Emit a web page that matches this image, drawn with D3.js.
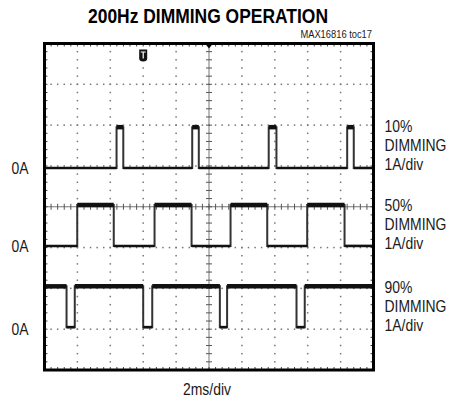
<!DOCTYPE html>
<html><head><meta charset="utf-8">
<script src="https://cdn.jsdelivr.net/npm/d3@7/dist/d3.min.js"></script>
<style>
html,body{margin:0;padding:0;background:#fff;}
svg{display:block;}
.lbl{font-family:"Liberation Sans",Arial,sans-serif;fill:#1a1a1a;}
</style></head>
<body>
<svg id="c" width="449" height="408"></svg>
<script>
// ---- data ----
const title = "200Hz DIMMING OPERATION";
const figId = "MAX16816 toc17";
const xAxisLabel = "2ms/div";
const zeroLabel = "0A";
const traceNames = ["10%", "50%", "90%"];
const traceScale = ["1A/div", "1A/div", "1A/div"];
// channel zero-level offsets in divisions from bottom of screen
const zeroOffsetDiv = [4.95, 3.04, 1.05];
// amplitude (A) when LED is on
const onCurrent = [1.0, 1.0, 1.0];
// initial state at t=0 (1 = on) and switching times (ms)
const startState = [0, 0, 1];
const edges10 = [4.38, 4.79, 8.98, 9.38, 13.63, 14.10, 18.40, 18.80];
const edges50 = [1.99, 4.21, 6.69, 8.94, 11.31, 13.54, 15.97, 18.24];
const edges90 = [1.34, 1.84, 6.00, 6.55, 10.66, 11.10, 15.32, 15.82];
const triggerTimeMs = 6.0;
const timeDivMs = 2, xDivs = 10, yDivs = 8, minorPerDiv = 5;

// ---- layout ----
const L = 44.5, R = 373.5, T = 43.5, B = 370;
const svg = d3.select("#c");
const x = d3.scaleLinear().domain([0, timeDivMs * xDivs]).range([L, R]);
const y = d3.scaleLinear().domain([0, yDivs]).range([B, T]);
const xd = d3.scaleLinear().domain([0, xDivs]).range([L, R]);

// grid
const g = svg.append("g");
const dotC = "#777";
for (let i = 1; i < xDivs; i++) {
  if (i === xDivs / 2) continue;
  for (let k = 1; k < yDivs * minorPerDiv; k++) {
    g.append("rect").attr("x", xd(i) - 0.75).attr("y", y(k / minorPerDiv) - 0.75)
      .attr("width", 1.5).attr("height", 1.5).attr("fill", dotC);
  }
}
for (let j = 1; j < yDivs; j++) {
  if (j === yDivs / 2) continue;
  for (let k = 1; k < xDivs * minorPerDiv; k++) {
    g.append("rect").attr("x", xd(k / minorPerDiv) - 0.75).attr("y", y(j) - 0.75)
      .attr("width", 1.5).attr("height", 1.5).attr("fill", dotC);
  }
}
// center axes with ticks
const cx = xd(xDivs / 2), cy = y(yDivs / 2);
g.append("line").attr("x1", cx).attr("x2", cx).attr("y1", T).attr("y2", B).attr("stroke", "#777").attr("stroke-width", 1);
g.append("line").attr("x1", L).attr("x2", R).attr("y1", cy).attr("y2", cy).attr("stroke", "#777").attr("stroke-width", 1);
for (let k = 1; k < yDivs * minorPerDiv; k++) {
  const yy = y(k / minorPerDiv);
  g.append("line").attr("x1", cx - 3).attr("x2", cx + 3).attr("y1", yy).attr("y2", yy).attr("stroke", "#555").attr("stroke-width", 1);
  g.append("line").attr("x1", L).attr("x2", L + 3).attr("y1", yy).attr("y2", yy).attr("stroke", "#444").attr("stroke-width", 1);
  g.append("line").attr("x1", R - 3).attr("x2", R).attr("y1", yy).attr("y2", yy).attr("stroke", "#444").attr("stroke-width", 1);
}
for (let k = 1; k < xDivs * minorPerDiv; k++) {
  const xx = xd(k / minorPerDiv);
  g.append("line").attr("x1", xx).attr("x2", xx).attr("y1", cy - 3).attr("y2", cy + 3).attr("stroke", "#555").attr("stroke-width", 1);
  g.append("line").attr("x1", xx).attr("x2", xx).attr("y1", T).attr("y2", T + 3).attr("stroke", "#444").attr("stroke-width", 1);
  g.append("line").attr("x1", xx).attr("x2", xx).attr("y1", B - 3).attr("y2", B).attr("stroke", "#444").attr("stroke-width", 1);
}

// traces
const allEdges = [edges10, edges50, edges90];
const tEnd = timeDivMs * xDivs;
allEdges.forEach((ed, i) => {
  const lvl = s => y(zeroOffsetDiv[i] + s * onCurrent[i]);
  let s = startState[i], t0 = 0;
  const pts = [[x(0), lvl(s)]];
  const segs = [];
  ed.forEach(t => {
    segs.push({a: t0, b: t, s: s});
    pts.push([x(t), lvl(s)]);
    s = 1 - s;
    pts.push([x(t), lvl(s)]);
    t0 = t;
  });
  segs.push({a: t0, b: tEnd, s: s});
  pts.push([x(tEnd), lvl(s)]);
  svg.append("path").attr("d", d3.line()(pts)).attr("fill", "none")
    .attr("stroke", "#333").attr("stroke-width", 2);
  segs.forEach(sg => {
    svg.append("line").attr("x1", x(sg.a)).attr("x2", x(sg.b))
      .attr("y1", lvl(sg.s)).attr("y2", lvl(sg.s))
      .attr("stroke", "#111").attr("stroke-width", sg.s ? 4.5 : 2.6);
  });
});

// frame
svg.append("rect").attr("x", L).attr("y", T).attr("width", R - L).attr("height", B - T)
  .attr("fill", "none").attr("stroke", "#000").attr("stroke-width", 3);
// top center trigger-position marker
svg.append("path").attr("d", `M${cx - 4},${T} L${cx + 4},${T} L${cx},${T + 5} Z`).attr("fill", "#000");
// trigger marker
const tx = x(triggerTimeMs);
svg.append("path").attr("d", `M${tx - 4},${T + 6} L${tx + 4},${T + 6} L${tx + 4},${T + 15} Q${tx + 4},${T + 18} ${tx},${T + 18} Q${tx - 4},${T + 18} ${tx - 4},${T + 15} Z`).attr("fill", "#111");
svg.append("path").attr("d", `M${tx - 2.5},${T + 8.5} L${tx + 2.5},${T + 8.5} M${tx},${T + 8.5} L${tx},${T + 15}`).attr("stroke", "#fff").attr("stroke-width", 1.2);

// condensed text helper
function ctext(px, py, str, size, anchor, sx) {
  return svg.append("g").attr("transform", `translate(${px},${py}) scale(${sx || 0.82},1)`)
    .append("text").attr("class", "lbl").attr("text-anchor", anchor || "start")
    .attr("font-size", size).text(str);
}
svg.append("text").attr("class", "lbl").attr("x", 208).attr("y", 23).attr("text-anchor", "middle")
  .attr("font-size", 21).attr("font-weight", "bold").attr("textLength", 240).attr("lengthAdjust", "spacingAndGlyphs")
  .style("fill", "#000").text(title);
ctext(372, 38, figId, 11, "end", 0.85);
ctext(207, 395, xAxisLabel, 17, "middle");
const labelBase = [[132, 150.7, 170], [210.7, 229.5, 249], [292.5, 311.5, 331]];
const zeroBase = [174, 251.7, 335];
traceNames.forEach((n, i) => {
  const lines = [n, "DIMMING", traceScale[i]];
  lines.forEach((tx2, j) => ctext(384.5, labelBase[i][j], tx2, 17));
  ctext(11.5, zeroBase[i], zeroLabel, 17);
});
</script>
</body></html>
